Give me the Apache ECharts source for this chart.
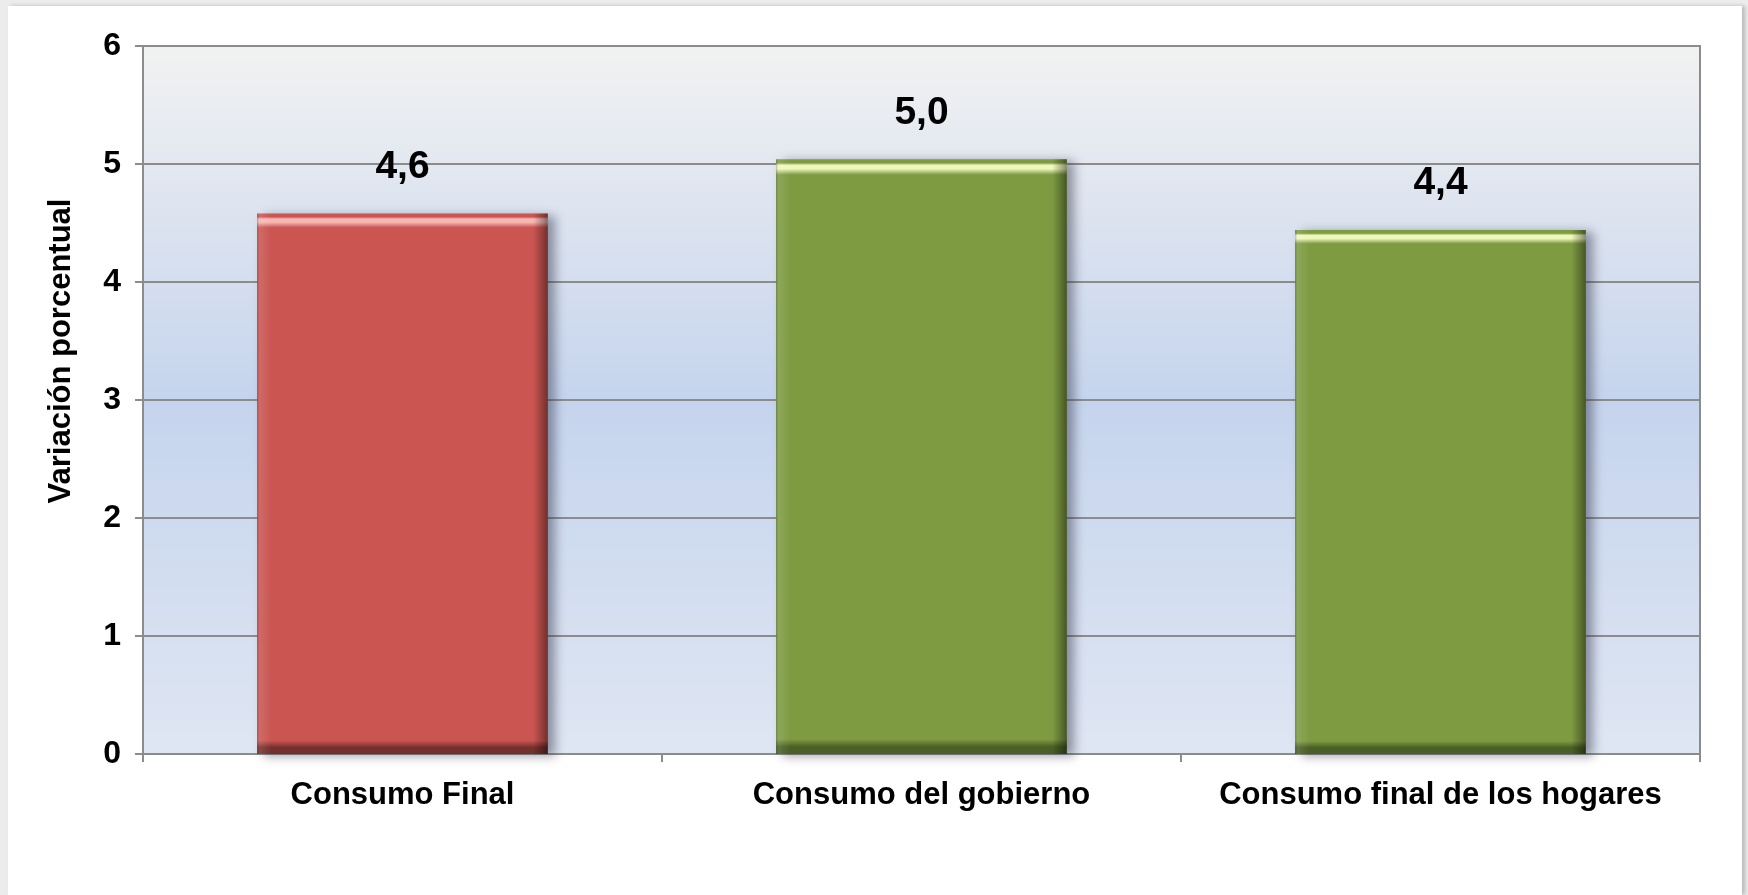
<!DOCTYPE html>
<html>
<head>
<meta charset="utf-8">
<script src="https://cdn.jsdelivr.net/npm/echarts@6/dist/echarts.min.js"></script>
<style>
  html, body { margin: 0; padding: 0; background: #ececec; width: 1748px; height: 895px; overflow: hidden; }
  #main { position: absolute; left: 8px; top: 6px; width: 1734px; height: 889px; background: #fff;
          box-shadow: 3px 0 4px rgba(0,0,0,0.22); }
</style>
</head>
<body>
<div id="main"></div>
<script>
// datos
var categorias = ['Consumo Final', 'Consumo del gobierno', 'Consumo final de los hogares']
var variacion = [4.58, 5.04, 4.44]
var colores = ['#ca5551', '#7e9b42']   // rojo para el total, verde para los demás
var ticksY = [0, 1, 2, 3, 4, 5, 6]
var nombreEje = 'Variación porcentual'

var chart = echarts.init(document.getElementById('main'))
var fuente = 'Liberation Sans, Arial, sans-serif'

// bisel de la barra: brillo arriba, borde oscuro abajo
function bisel(base, luz, oscuro) {
  return new echarts.graphic.LinearGradient(0, 0, 0, 1, [
    { offset: 0, color: base },
    { offset: 0.006, color: base },
    { offset: 0.01, color: luz },
    { offset: 0.016, color: luz },
    { offset: 0.026, color: base },
    { offset: 0.975, color: base },
    { offset: 0.988, color: oscuro },
    { offset: 1, color: oscuro }
  ])
}

var datos = variacion.map(function(v, i) {
  var rojo = i === 0
  return {
    value: v,
    itemStyle: {
      color: rojo ? bisel(colores[0], '#f6b8b4', '#73302d') : bisel(colores[1], '#eef8bc', '#4a5f26')
    }
  }
})

var option = {
  animation: false,
  grid: {
    left: 135,
    right: 42,
    top: 40,
    bottom: 141,
    show: true,
    borderColor: '#8c8c8c',
    borderWidth: 2,
    backgroundColor: new echarts.graphic.LinearGradient(0, 0, 0, 1, [
      { offset: 0, color: '#f2f2f2' },
      { offset: 0.5, color: '#c5d4ed' },
      { offset: 1, color: '#dfe6f3' }
    ])
  },
  xAxis: {
    type: 'category',
    data: categorias,
    axisLine: { lineStyle: { color: '#8c8c8c', width: 2 } },
    axisTick: { show: true, interval: 0, length: 8, lineStyle: { color: '#8c8c8c', width: 2 } },
    axisLabel: {
      interval: 0,
      margin: 26,
      color: '#000',
      fontFamily: fuente,
      fontWeight: 'bold',
      fontSize: 31
    }
  },
  yAxis: {
    type: 'value',
    min: ticksY[0],
    max: ticksY[ticksY.length - 1],
    interval: 1,
    axisLine: { show: true, lineStyle: { color: '#8c8c8c', width: 2 } },
    axisTick: { show: true, length: 8, lineStyle: { color: '#8c8c8c', width: 2 } },
    splitLine: { lineStyle: { color: '#8c8c8c', width: 2 } },
    axisLabel: {
      margin: 22,
      color: '#000',
      fontFamily: fuente,
      fontWeight: 'bold',
      fontSize: 32
    }
  },
  graphic: [{
    type: 'text',
    x: 53,
    y: 345,
    rotation: Math.PI / 2,
    style: {
      text: nombreEje,
      fill: '#000',
      font: 'bold 31px ' + fuente,
      textAlign: 'center',
      textVerticalAlign: 'middle'
    }
  }],
  series: [
    {
      type: 'bar',
      barWidth: '56%',
      data: datos,
      itemStyle: {
        shadowColor: 'rgba(40,40,60,0.45)',
        shadowBlur: 10,
        shadowOffsetX: 7,
        shadowOffsetY: 2
      }
    },
    {
      // sombreado lateral del bisel
      type: 'bar',
      barWidth: '56%',
      barGap: '-100%',
      data: variacion,
      silent: true,
      itemStyle: {
        color: new echarts.graphic.LinearGradient(0, 0, 1, 0, [
          { offset: 0, color: 'rgba(0,0,0,0.25)' },
          { offset: 0.008, color: 'rgba(255,255,255,0.12)' },
          { offset: 0.05, color: 'rgba(255,255,255,0)' },
          { offset: 0.95, color: 'rgba(0,0,0,0)' },
          { offset: 0.985, color: 'rgba(0,0,0,0.3)' },
          { offset: 1, color: 'rgba(0,0,0,0.45)' }
        ])
      },
      label: {
        show: true,
        position: 'top',
        distance: 27,
        color: '#000',
        fontFamily: fuente,
        fontWeight: 'bold',
        fontSize: 39,
        formatter: function(p) {
          return p.value.toFixed(1).replace('.', ',')
        }
      }
    }
  ]
}
chart.setOption(option)
</script>
</body>
</html>
